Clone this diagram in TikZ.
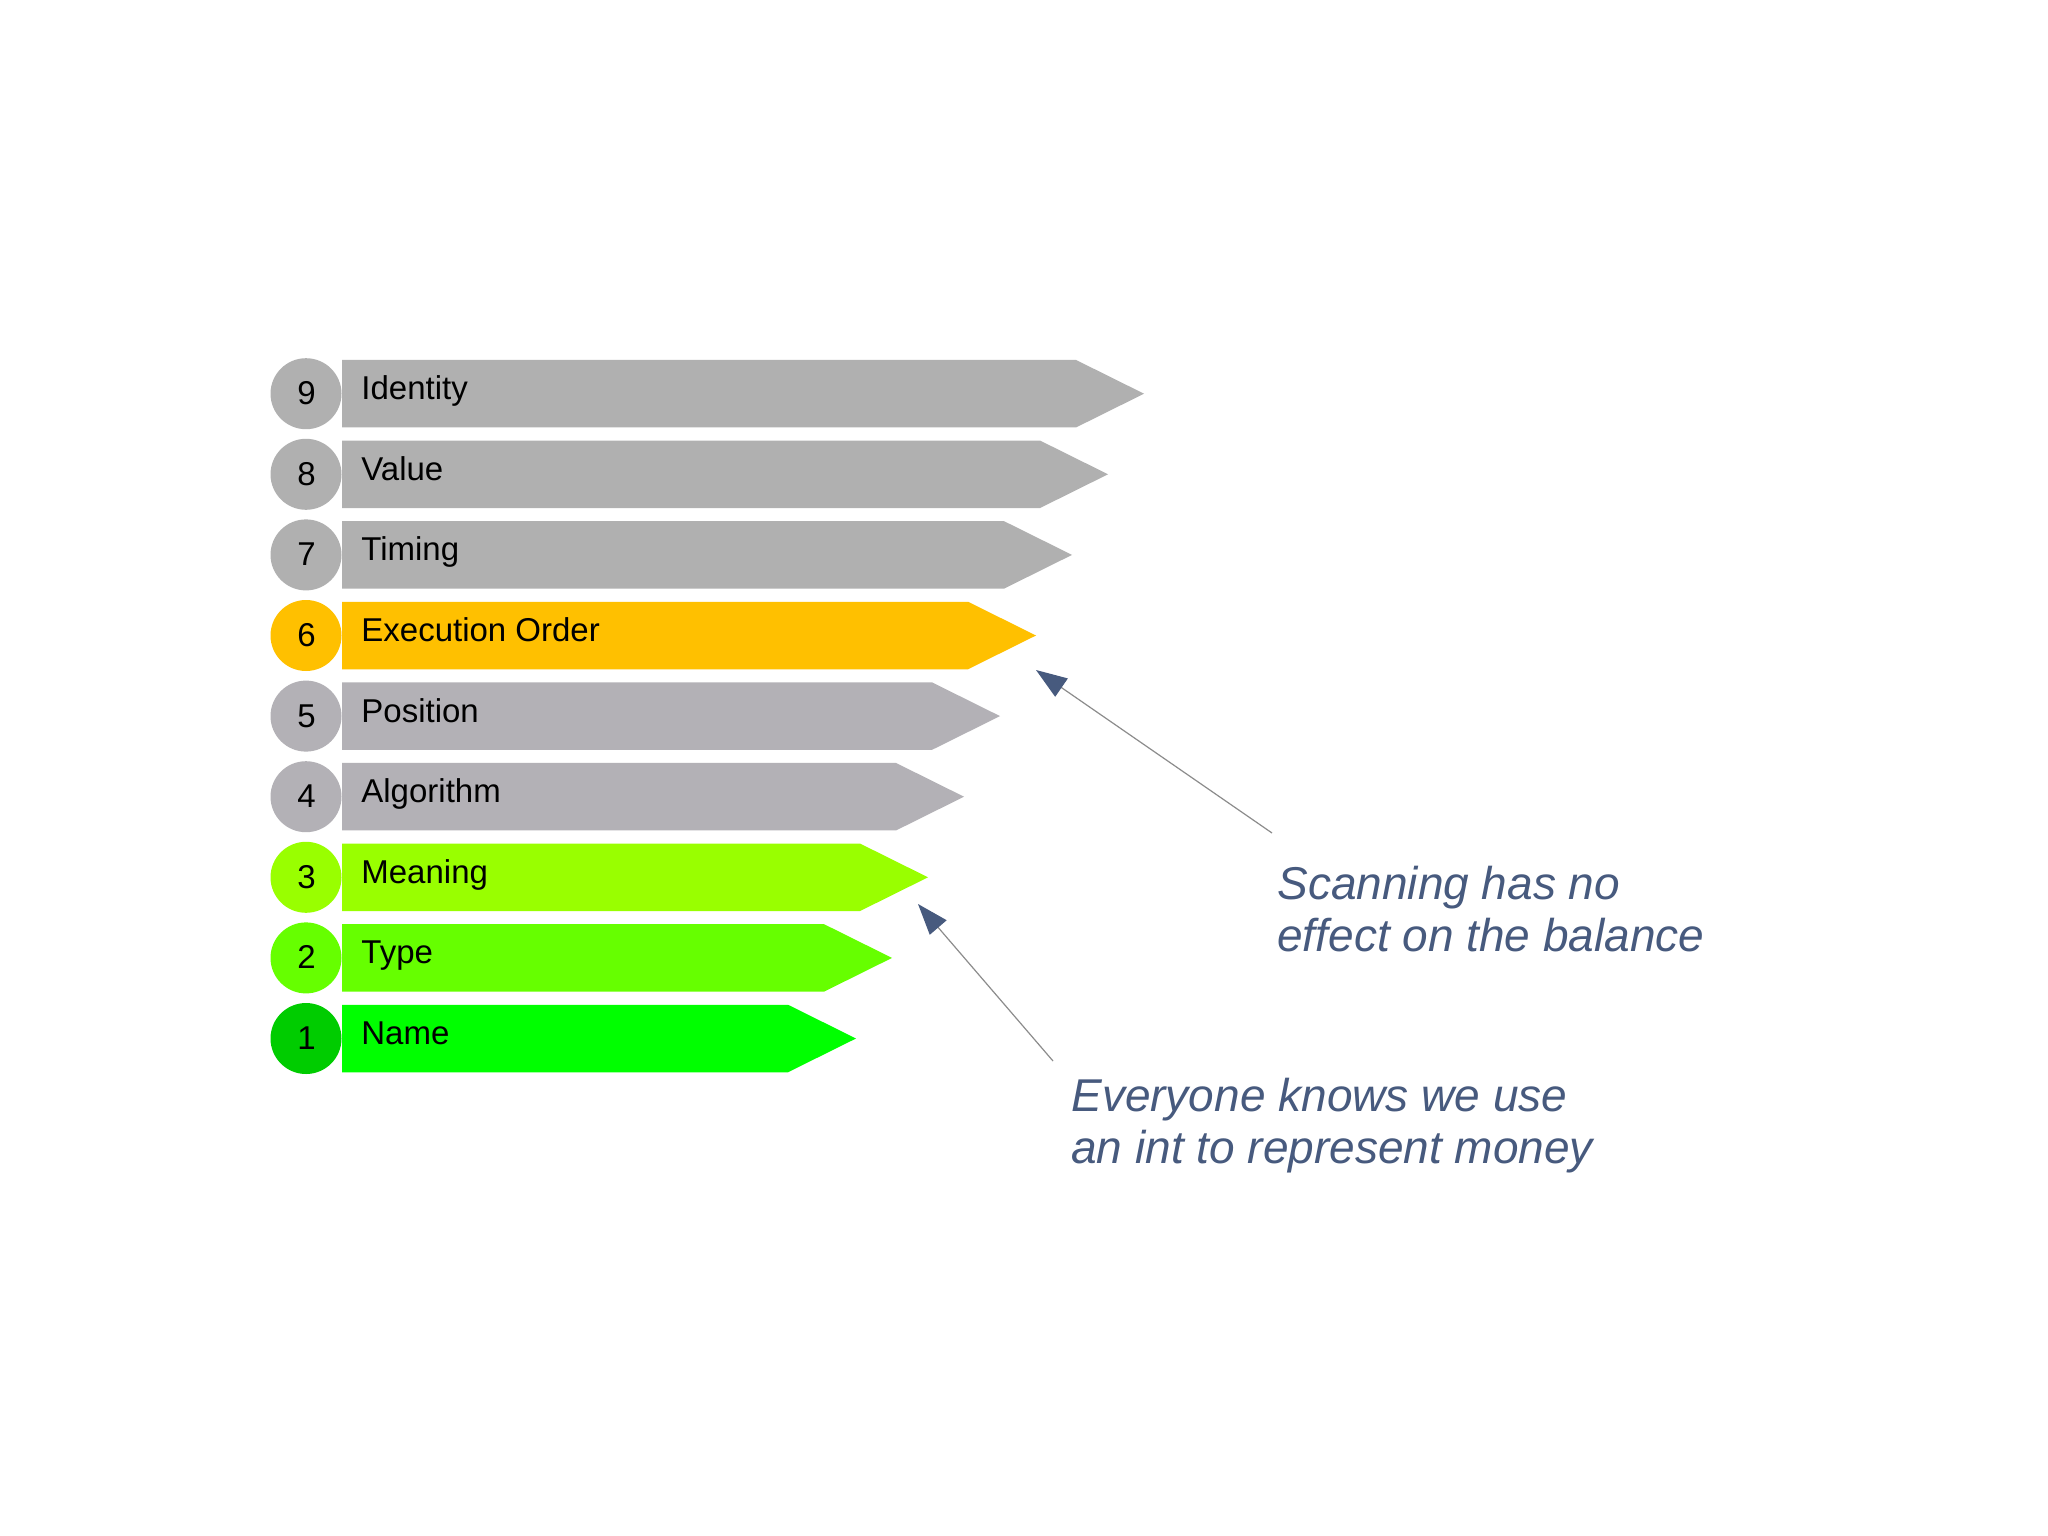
\documentclass[tikz,border=0pt]{standalone}
\usepackage{fontspec}
\setmainfont{Liberation Sans}
\usetikzlibrary{arrows.meta}
\definecolor{grayA}{HTML}{B0B0B0}
\definecolor{grayB}{HTML}{B3B1B6}
\definecolor{orangeY}{HTML}{FFC000}
\definecolor{limeA}{HTML}{99FF00}
\definecolor{limeB}{HTML}{66FF00}
\definecolor{greenA}{HTML}{00FF00}
\definecolor{greenB}{HTML}{00CC00}
\definecolor{noteblue}{HTML}{475A7E}
\definecolor{linegray}{HTML}{8C8C8C}
\begin{document}
\begin{tikzpicture}[x=0.5pt,y=-0.5pt,
  numcirc/.style={circle, minimum size=35.5pt, inner sep=0pt},
  numtext/.style={font=\fontsize{16.5}{19}\selectfont, anchor=base, inner sep=0pt},
  bartext/.style={font=\fontsize{16.5}{20}\selectfont, anchor=base west, inner sep=0pt},
  note/.style={font=\fontsize{23}{26}\selectfont\itshape, text=noteblue, anchor=base west, inner sep=0pt},
  pointer/.style={draw=linegray, line width=0.6pt, -{Triangle[length=15.5pt,width=11pt,color=noteblue]}}]
\useasboundingbox (0,0) rectangle (2048,1535);
\fill[white] (0,0) rectangle (2048,1535);
\foreach \k/\lab/\col/\ccol in {9/Identity/grayA/grayA, 8/Value/grayA/grayA, 7/Timing/grayA/grayA, 6/Execution Order/orangeY/orangeY, 5/Position/grayB/grayB, 4/Algorithm/grayB/grayB, 3/Meaning/limeA/limeA, 2/Type/limeB/limeB, 1/Name/greenA/greenB} {
  \pgfmathsetmacro\cy{635.5+(6-\k)*80.6}
  \pgfmathsetmacro\tx{1036+(\k-6)*36}
  \pgfmathsetmacro\nx{\tx-68}
  \fill[\col] (342,{\cy-33.75}) -- (\nx,{\cy-33.75}) -- (\tx,\cy) -- (\nx,{\cy+33.75}) -- (342,{\cy+33.75}) -- cycle;
  \node[numcirc, fill=\ccol] (c\k) at (306,\cy) {};
  \node[numtext] (n\k) at (306.5,{\cy+11}) {\k};
  \node[bartext] (l\k) at (361,{\cy+6}) {\lab};
}
\node[note] (s1) at (1277,899) {Scanning has no};
\node[note] (s2) at (1277,951) {effect on the balance};
\node[note] (e1) at (1071,1111) {Everyone knows we use};
\node[note] (e2) at (1071,1163) {an int to represent money};
\coordinate (a1s) at (1272,833);
\coordinate (a1e) at (1036,670);
\coordinate (a2s) at (1053,1061);
\coordinate (a2e) at (918,904);
\draw[pointer] (a1s) -- (a1e);
\draw[pointer] (a2s) -- (a2e);
\end{tikzpicture}
\end{document}
